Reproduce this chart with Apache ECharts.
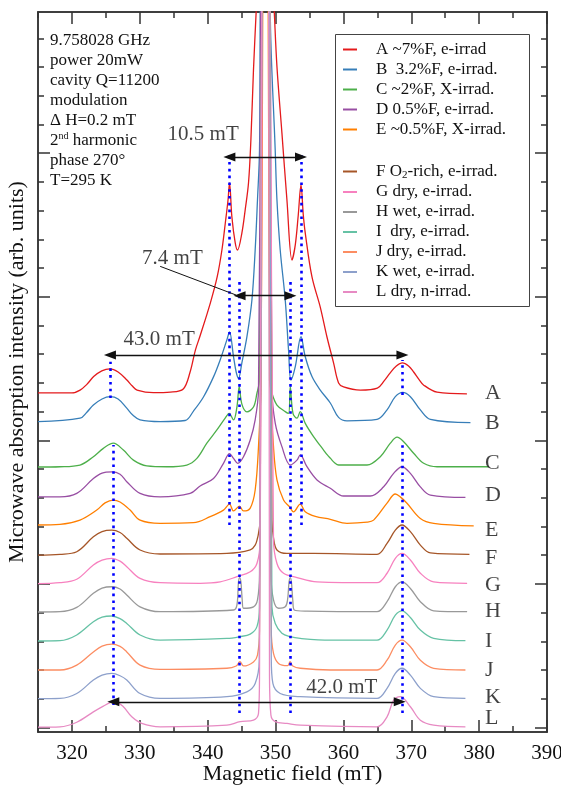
<!DOCTYPE html>
<html>
<head>
<meta charset="utf-8">
<script src="https://cdn.jsdelivr.net/npm/echarts@6/dist/echarts.min.js"></script>
<style>
html, body { margin: 0; padding: 0; background: #fff; }
#chart { width: 561px; height: 786px; }
</style>
</head>
<body>
<div id="chart"></div>
<script>
// each trace: [field (mT), intensity above its own baseline]
const curveA = [[315,0],[320,0],[321.2,0.1],[322.2,0.3],[323.2,0.57],[324.4,0.77],[325.6,0.84],[326.8,0.73],[328.1,0.45],[328.9,0.24],[329.6,0.1],[332,0.01],[334.5,0.03],[336.4,0.14],[337.4,0.72],[338.2,1.5],[338.9,2],[340.4,3.14],[341.4,4.04],[342.1,4.98],[342.6,5.92],[343,6.72],[343.22,7.32],[343.57,6.13],[344.06,5.23],[344.4,4.98],[345.04,5.57],[345.53,6.38],[346.02,7.32],[346.37,8.82],[346.75,11.25],[347.15,13.3],[348.48,20],[349.81,13.3],[350.21,11.36],[350.94,9.06],[351.68,6.72],[352.42,4.63],[352.91,5.16],[353.35,6.2],[353.75,7.25],[354.09,6.2],[354.38,5.57],[355.37,4.04],[356.59,2.99],[357.58,1.95],[358.55,1.05],[359.29,0.35],[360.03,0.21],[362.5,0.1],[365,0.17],[366,0.42],[366.9,0.7],[367.8,0.94],[368.7,1.05],[369.6,0.94],[370.35,0.73],[371.1,0.48],[371.8,0.28],[373.8,0.03],[378.2,-0.03]];
const curveB = [[315,0],[321.2,0.12],[322.2,0.33],[323.16,0.58],[324.44,0.79],[325.62,0.87],[326.8,0.79],[328.08,0.47],[329,0.22],[330.04,0.06],[333,0],[336.68,0.04],[337.91,0.37],[339.38,0.86],[340.86,1.56],[341.84,2.15],[342.83,2.85],[343.22,3.13],[343.81,2.26],[344.2,1.73],[344.54,1.51],[345.04,2.05],[345.78,2.95],[346.52,4.24],[347,5.98],[347.34,7.72],[347.64,9.47],[347.74,14.3],[348.48,48],[349.22,14.3],[349.95,9.47],[350.21,7.72],[350.69,5.98],[351.43,4.24],[351.92,2.48],[352.27,1.45],[352.91,1.92],[353.75,2.96],[354.38,2.26],[355.37,1.57],[356.59,1.1],[358.07,0.65],[359.29,0.15],[360.53,0.03],[364.96,0.08],[366.43,0.41],[367.65,0.87],[368.73,1.02],[369.87,0.87],[371.34,0.41],[372.82,0.08],[378.72,-0.03]];
const curveC = [[315,0.02],[318.24,0.03],[321.19,0.09],[323.16,0.38],[324.63,0.67],[326.11,0.85],[327.58,0.61],[329.06,0.26],[331.03,0.06],[333.98,0.03],[336.93,0.09],[338.41,0.32],[339.88,0.85],[341.36,1.31],[342.58,1.72],[343.17,1.89],[343.81,1.66],[344.31,2.11],[344.65,2.82],[345.04,2.21],[345.78,1.94],[346.75,2.11],[347.26,2.59],[347.64,3.05],[347.96,15.9],[348.5,40],[349,15.9],[349.12,3.05],[349.47,2.59],[350.21,2.18],[351.43,1.95],[351.92,1.89],[352.17,2.82],[352.57,1.89],[353.16,1.72],[353.64,1.95],[354.38,1.54],[355.6,1.08],[357.08,0.61],[357.6,0.45],[358.1,0.32],[358.7,0.17],[359.3,0.09],[363.48,0.09],[365.44,0.38],[366.92,0.85],[367.91,1.06],[368.88,0.9],[370.35,0.5],[371.83,0.15],[373.8,0.03],[381.42,0.03]];
const curveD = [[315,0],[318.24,0],[320.71,0.12],[323.16,0.64],[324.44,0.83],[325.87,0.87],[327.09,0.79],[328.08,0.53],[330.04,0.12],[333,0],[337.42,0.12],[338.89,0.38],[340.86,0.64],[342.33,1.17],[343.22,1.51],[343.81,1.34],[344.43,1.17],[345.28,1.4],[346.27,1.98],[347,2.68],[347.49,3.72],[347.82,16.9],[348.5,40],[349.22,16.9],[349.47,3.72],[349.96,2.56],[350.94,1.75],[352.17,1.11],[353.16,1.28],[353.64,1.46],[354.63,1.05],[356.11,0.59],[358.07,0.3],[360.03,0.03],[363.97,0.03],[365.93,0.35],[367.4,0.82],[368.64,1.05],[369.87,0.82],[371.34,0.35],[372.82,0.06],[377.98,-0.02]];
const curveE = [[315,0],[318.24,0.02],[321.19,0.17],[323.66,0.52],[324.88,0.77],[326.06,0.87],[327.09,0.8],[328.57,0.52],[330.04,0.17],[333,0.06],[337.91,0.08],[340.37,0.29],[342.33,0.52],[343.22,0.73],[343.81,0.49],[344.69,0.66],[345.28,0.49],[346.27,0.59],[347,1.22],[347.49,2.73],[347.85,5.05],[348.11,17.9],[348.5,40],[348.92,17.9],[349.22,5.05],[349.7,2.73],[350.21,1.57],[351.18,0.87],[352.06,0.63],[352.65,0.46],[353.64,0.73],[354.38,0.46],[355.86,0.3],[358.07,0.2],[360.53,0.06],[363.5,0.1],[364.45,0.17],[366.43,0.76],[367.65,1.08],[368.38,0.98],[369.37,0.76],[371.34,0.23],[373.3,0.06],[379.2,-0.03]];
const curveF = [[315,0],[318.24,0.03],[320.71,0.12],[323.16,0.64],[324.44,0.82],[325.87,0.87],[327.09,0.79],[328.08,0.59],[330.04,0.18],[333,0.04],[342.83,0.06],[346.27,0.18],[347,0.35],[347.34,0.59],[347.49,0.76],[347.74,1.22],[347.96,18.9],[348.5,40],[349.14,18.9],[349.47,1.22],[349.7,0.6],[350.21,0.18],[351.68,0.06],[355.6,0.06],[364.96,0.03],[366.43,0.41],[367.65,0.87],[368.64,1.05],[369.87,0.82],[371.34,0.35],[372.82,0.08],[378.57,0.03]];
const curveG = [[315,0.01],[318.24,0.04],[320.71,0.16],[323.16,0.66],[324.44,0.83],[325.87,0.89],[327.09,0.79],[328.08,0.6],[330.04,0.19],[333,0.04],[338.89,0.02],[341.84,0.07],[344.31,0.25],[346.27,0.42],[347.26,0.71],[347.74,1.53],[348.04,19.9],[348.6,40],[349.22,19.9],[349.7,1.53],[350.21,0.71],[351.18,0.37],[353.16,0.22],[356.11,0.07],[364.96,0.04],[366.43,0.37],[367.65,0.89],[368.64,1.06],[369.87,0.83],[371.34,0.37],[373.3,0.07],[378.23,0.02]];
const curveH = [[315,0.02],[318.24,0.03],[320.71,0.18],[323.16,0.67],[324.44,0.85],[325.87,0.9],[327.09,0.82],[328.08,0.61],[330.04,0.2],[333,0.03],[343.81,0.09],[344.31,0.26],[344.54,1.06],[344.72,1.22],[344.9,1.06],[345.09,0.44],[345.28,0.15],[346.75,0.2],[347.34,0.44],[347.64,1.37],[347.96,20.9],[348.5,40],[349.07,20.9],[349.32,1.37],[349.7,0.44],[350.44,0.15],[351.43,0.2],[351.77,0.44],[351.99,1.06],[352.17,1.22],[352.34,1.06],[352.54,0.44],[352.76,0.09],[354.63,0.05],[364.96,0.03],[366.43,0.38],[367.65,0.9],[368.64,1.07],[369.87,0.84],[371.34,0.38],[373.3,0.06],[378.23,0.03]];
const curveI = [[315,0.01],[318.24,0.02],[320.71,0.22],[323.16,0.68],[324.44,0.84],[325.87,0.88],[327.09,0.79],[328.08,0.62],[330.04,0.22],[333,0.04],[342.83,0.1],[344.69,0.16],[346.27,0.25],[347.26,0.51],[347.64,1.2],[347.96,21.9],[348.5,40],[349.14,21.9],[349.47,1.2],[349.96,0.62],[350.94,0.28],[352.17,0.16],[353.64,0.1],[358.07,0.04],[364.96,0.04],[366.43,0.39],[367.65,0.91],[368.64,1.06],[369.87,0.83],[371.34,0.39],[373.3,0.1],[377.98,0.02]];
const curveJ = [[315,0],[318.24,0],[320.71,0.17],[323.16,0.63],[324.44,0.83],[325.87,0.9],[327.09,0.82],[328.08,0.63],[330.04,0.17],[333,0.02],[342.83,0.06],[344.2,0.14],[344.76,0.29],[345.28,0.14],[346.75,0.28],[347.34,0.52],[347.64,1.39],[347.96,22.9],[348.5,40],[349.14,22.9],[349.37,1.39],[349.7,0.58],[350.44,0.23],[351.77,0.15],[352.14,0.29],[352.54,0.14],[353.64,0.06],[358.07,0],[364.96,0],[366.43,0.34],[367.65,0.87],[368.64,1.04],[369.87,0.81],[371.34,0.34],[373.3,0.06],[377.98,0]];
const curveK = [[315,0],[318.24,0.01],[320.71,0.18],[323.16,0.65],[324.44,0.82],[325.87,0.88],[327.09,0.8],[328.08,0.65],[330.04,0.18],[333,0.01],[342.83,0.07],[345.78,0.24],[347,0.53],[347.6,1.34],[347.96,23.9],[348.5,40],[349.14,23.9],[349.37,1.46],[349.61,0.53],[350.69,0.18],[353.64,0.07],[364.96,0.01],[366.43,0.36],[367.65,0.88],[368.64,1.06],[369.87,0.82],[371.34,0.36],[373.3,0.07],[377.98,0.01]];
const curveL = [[315,0.01],[318.24,0.02],[320.71,0.18],[323.16,0.54],[324.63,0.74],[325.62,0.86],[326.36,0.89],[327.58,0.72],[328.82,0.37],[330.29,0.14],[333,0.02],[342.83,0.08],[344.79,0.2],[346.75,0.25],[347.49,0.49],[347.64,1.88],[347.96,24.9],[348.5,45],[348.99,24.9],[349.11,1.88],[349.32,0.43],[349.96,0.2],[351.68,0.14],[353.64,0.08],[364.96,0.02],[366.43,0.37],[367.4,0.95],[368.39,1.07],[369.87,0.72],[371.34,0.25],[373.3,0.08],[377.98,0.02]];

// vertical offset of each trace (in minor tick units)
const baselines = [11.65, 10.65, 9.05, 8.03, 7.05, 6.0, 5.0, 4.0, 3.0, 2.0, 1.0, 0];
const names = ['A ~7%F, e-irrad', 'B  3.2%F, e-irrad.', 'C ~2%F, X-irrad.', 'D 0.5%F, e-irrad.', 'E ~0.5%F, X-irrad.',
  'F O2-rich, e-irrad.', 'G dry, e-irrad.', 'H wet, e-irrad.', 'I  dry, e-irrad.', 'J dry, e-irrad.', 'K wet, e-irrad.', 'L dry, n-irrad.'];
const colors = ['#e41a1c', '#377eb8', '#4daf4a', '#984ea3', '#ff7f00', '#a65628', '#f781bf', '#999999', '#66c2a5', '#fc8d62', '#8da0cb', '#e78ac3'];
const tags = ['A', 'B', 'C', 'D', 'E', 'F', 'G', 'H', 'I', 'J', 'K', 'L'];
const tagLevels = [11.63, 10.58, 9.19, 8.09, 6.87, 5.88, 4.94, 4.03, 2.99, 2.0, 1.04, 0.31];
const tagField = 380.8;

const xMajor = [320, 330, 340, 350, 360, 370, 380, 390];
const xMinor = [315, 325, 335, 345, 355, 365, 375, 385];
const yMajor = [0, 5, 10, 15, 20];
const yMinor = [1, 2, 3, 4, 6, 7, 8, 9, 11, 12, 13, 14, 16, 17, 18, 19, 21, 22, 23, 24];

// blue dotted guides: field, from, to
const guides = [[343.2, 7.05, 19.94], [353.75, 7.05, 19.94], [344.7, 0.5, 15.52], [352.2, 0.5, 15.52],
  [325.6, 11.47, 12.74], [368.7, 11.58, 12.8], [326.1, 0.78, 9.84], [368.6, 0.5, 9.91]];
// double arrows: from, to, level
const spans = [[325.6, 368.7, 12.97], [343.2, 353.75, 19.87], [344.7, 352.2, 15.04], [326.1, 368.3, 0.89]];
const spanNotes = [[332.85, 13.5, '43.0 mT'], [339.34, 20.64, '10.5 mT'], [334.8, 16.35, '7.4 mT'], [359.76, 1.39, '42.0 mT']];
const leader = [[333.0, 16.06], [344.2, 15.06]];

const infoLines = ['9.758028 GHz', 'power 20mW', 'cavity Q=11200', 'modulation', 'Δ H=0.2 mT',
  '2{sup|nd} harmonic', 'phase 270°', 'T=295 K'];

const font = 'Liberation Serif';
const ink = '#333';
const chart = echarts.init(document.getElementById('chart'));

function xAxisOf(pos, values, len, withLabels) {
  return {
    type: 'value', min: 315, max: 390, position: pos,
    axisLine: { show: true, onZero: false, lineStyle: { color: ink, width: 1.5 } },
    axisTick: { show: true, inside: true, length: len, customValues: values, lineStyle: { color: ink, width: 1.5 } },
    axisLabel: withLabels
      ? { show: true, customValues: xMajor, margin: 11, color: '#111', fontFamily: font, fontSize: 21 }
      : { show: false },
    splitLine: { show: false }
  };
}
function yAxisOf(pos, values, len) {
  return {
    type: 'value', min: -0.16, max: 24.92, position: pos,
    axisLine: { show: true, onZero: false, lineStyle: { color: ink, width: 1.5 } },
    axisTick: { show: true, inside: true, length: len, customValues: values, lineStyle: { color: ink, width: 1.5 } },
    axisLabel: { show: false },
    splitLine: { show: false }
  };
}

const xAxes = [xAxisOf('bottom', xMajor, 12, true), xAxisOf('bottom', xMinor, 6), xAxisOf('top', xMajor, 12), xAxisOf('top', xMinor, 6)];
xAxes[0].name = 'Magnetic field (mT)';
xAxes[0].nameLocation = 'middle';
xAxes[0].nameGap = 31;
xAxes[0].nameMoveOverlap = false;
xAxes[0].nameTextStyle = { fontFamily: font, fontSize: 22, color: '#111' };
const yAxes = [yAxisOf('left', yMajor, 12), yAxisOf('left', yMinor, 6), yAxisOf('right', yMajor, 12), yAxisOf('right', yMinor, 6)];
yAxes[0].name = 'Microwave absorption intensity (arb. units)';
yAxes[0].nameLocation = 'middle';
yAxes[0].nameGap = 10;
yAxes[0].nameMoveOverlap = false;
yAxes[0].nameTextStyle = { fontFamily: font, fontSize: 22, color: '#111' };

const curves = [curveA, curveB, curveC, curveD, curveE, curveF, curveG, curveH, curveI, curveJ, curveK, curveL];
const traces = curves.map((c, i) => ({
  name: names[i],
  type: 'line',
  data: c.map(p => [p[0], p[1] + baselines[i]]),
  symbol: 'none',
  smooth: 0.35,
  clip: true,
  silent: true,
  z: 3,
  lineStyle: { width: 1.3, color: colors[i] },
  itemStyle: { color: colors[i] }
}));

const dotStyle = { color: '#0000ff', width: 2.6, type: [2.6, 4.2], cap: 'butt' };
const arrowStyle = { color: '#111', width: 1.4, type: 'solid' };
const marks = [];
guides.forEach(g => marks.push([{ coord: [g[0], g[1]], symbol: 'none', lineStyle: dotStyle }, { coord: [g[0], g[2]], symbol: 'none' }]));
spans.forEach(s => marks.push([
  { coord: [s[0], s[2]], symbol: 'triangle', symbolSize: [9, 12], lineStyle: arrowStyle },
  { coord: [s[1], s[2]], symbol: 'triangle', symbolSize: [9, 12] }
]));
marks.push([{ coord: leader[0], symbol: 'none', lineStyle: { color: '#111', width: 1, type: 'solid' } }, { coord: leader[1], symbol: 'none' }]);

const annot = {
  name: 'annot', type: 'line', data: [], silent: true, z: 5,
  markLine: { silent: true, animation: false, label: { show: false }, itemStyle: { color: '#111' }, data: marks }
};

const notes = {
  name: 'notes', type: 'scatter', silent: true, z: 6, symbolSize: 1,
  itemStyle: { color: 'rgba(0,0,0,0)' },
  label: { show: true, position: 'inside', color: '#111', fontFamily: font, fontSize: 21, formatter: p => p.data[2] },
  data: spanNotes
};

const letters = {
  name: 'letters', type: 'scatter', silent: true, z: 6, symbolSize: 1,
  itemStyle: { color: 'rgba(0,0,0,0)' },
  label: { show: true, position: 'right', distance: 0, color: '#111', fontFamily: font, fontSize: 22, formatter: p => p.data[2] },
  data: tags.map((t, i) => [tagField, tagLevels[i], t])
};

const legendText = { fontFamily: font, fontSize: 17, color: '#111', lineHeight: 17, padding: [0, 0, 0, 14] };
chart.setOption({
  animation: false,
  backgroundColor: '#fff',
  grid: { left: 38, right: 14, top: 12, bottom: 54, outerBoundsMode: 'none', containLabel: false },
  xAxis: xAxes,
  yAxis: yAxes,
  legend: [
    { data: names.slice(0, 5), orient: 'vertical', left: 338, top: 36, icon: 'rect', itemWidth: 14, itemHeight: 2, itemGap: 3, selectedMode: false, textStyle: legendText },
    { data: names.slice(5), orient: 'vertical', left: 338, top: 158, icon: 'rect', itemWidth: 14, itemHeight: 2, itemGap: 3, selectedMode: false,
      formatter: n => n.replace('O2', 'O{sub|2}'),
      textStyle: Object.assign({}, legendText, { rich: { sub: { fontFamily: font, fontSize: 11, color: '#111', padding: [7, 0, 0, 0] } } }) }
  ],
  graphic: [
    { type: 'rect', left: 333, top: 32, shape: { width: 194, height: 272 }, style: { fill: 'none', stroke: '#444', lineWidth: 1 }, z: 1 },
    { type: 'text', left: 50, top: 30, z: 4, style: {
      text: infoLines.join('\n'), fontFamily: font, fontSize: 17, lineHeight: 20.1, fill: '#111',
      rich: { sup: { fontFamily: font, fontSize: 10, lineHeight: 20.1, padding: [0, 0, 8, 0] } }
    } }
  ],
  series: traces.concat([annot, notes, letters])
});
</script>
</body>
</html>
